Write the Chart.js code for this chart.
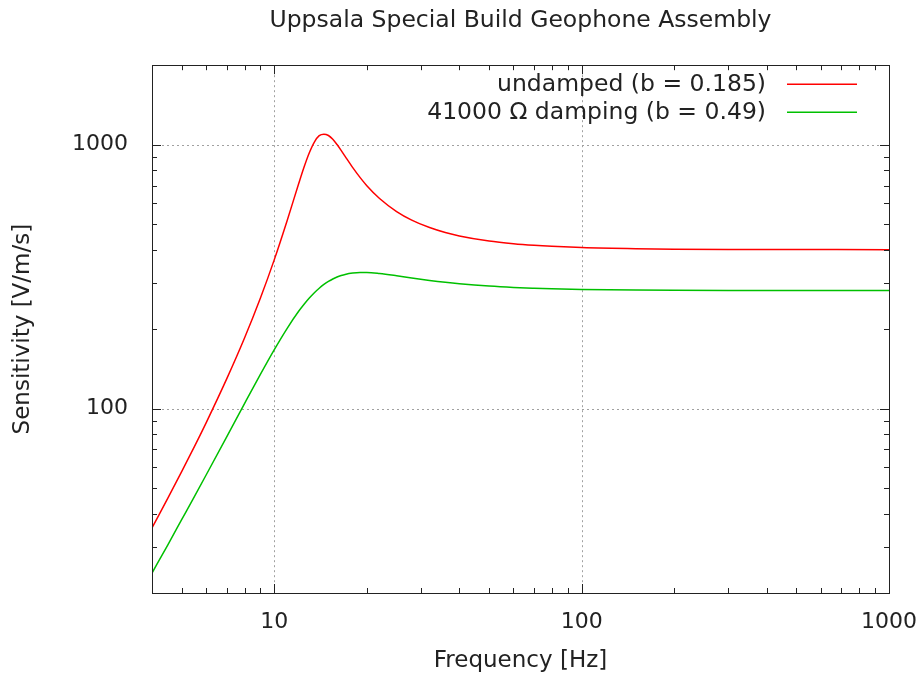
<!DOCTYPE html>
<html>
<head>
<meta charset="utf-8">
<title>Uppsala Special Build Geophone Assembly</title>
<script src="https://cdn.jsdelivr.net/npm/chart.js@4.4.1/dist/chart.umd.min.js"></script>
<style>
  html, body { margin: 0; padding: 0; background: #ffffff; }
  #contenedor { width: 920px; height: 675px; }
</style>
</head>
<body>
<div id="contenedor"><canvas id="graficoGeofono" width="920" height="675"></canvas></div>
<script>
// Frecuencias (Hz) donde se leyeron las curvas del grafico original
var frecuencias = [4, 4.5, 5, 5.5, 6, 7, 8, 9, 10, 11, 12, 12.5, 13, 13.5, 14, 14.5, 15, 15.5, 16, 16.5,
  17, 18, 19, 20, 22, 25, 28, 32, 36, 40, 50, 60, 70, 80, 100, 150, 200, 300, 500, 1000];

// Sensibilidad [V/m/s] sin amortiguar (b = 0.185)
var sensibilidadSinAmortiguar = [35.3, 45.7, 57.8, 71.9, 88.3, 129.5, 185.0, 261.1, 366.7, 513.9,
  710.7, 822.6, 931.7, 1022.9, 1081.1, 1095.0, 1083.0, 1048.2, 1000.8, 950.8,
  902.6, 818.4, 751.6, 699.3, 625.1, 557.9, 517.8, 485.1, 464.6, 451.0,
  431.3, 421.3, 415.4, 411.7, 407.4, 403.3, 401.8, 400.8, 400.3, 400.1];

// Sensibilidad [V/m/s] con resistencia de 41000 ohm (b = 0.49)
var sensibilidadAmortiguada = [23.8, 30.4, 38.0, 46.5, 56.0, 78.1, 104.4, 134.4, 167.2, 201.0,
  233.6, 248.5, 262.3, 274.7, 285.7, 295.2, 303.1, 309.7, 315.0, 319.1,
  322.3, 326.1, 327.6, 327.6, 324.8, 318.6, 312.5, 305.9, 300.9, 297.2,
  291.2, 287.8, 285.8, 284.4, 282.8, 281.3, 280.7, 280.3, 280.1, 280.0];

var etiquetasX = [10, 100, 1000];
var etiquetasY = [100, 1000];
var nombresSeries = ['undamped (b = 0.185)', '41000 \u03a9 damping (b = 0.49)'];

var fuente = '"DejaVu Sans", "Liberation Sans", sans-serif';

function esEtiqueta(lista, v) {
  return lista.some(function (e) { return Math.abs(e - v) < e * 1e-6; });
}

function aPuntos(valores) {
  return frecuencias.map(function (f, i) { return { x: f, y: valores[i] }; });
}

// marcas de las decadas: 1..9 x 10^n dentro del rango de la escala
function marcasLog(escala) {
  var marcas = [];
  for (var d = 1; d <= 10000; d *= 10) {
    for (var m = 1; m <= 9; m++) {
      var v = m * d;
      if (v >= escala.min && v <= escala.max) marcas.push({ valor: v, mayor: m === 1 });
    }
  }
  return marcas;
}

// rejilla punteada, marcas hacia dentro y borde al estilo gnuplot
var marcoGnuplot = {
  id: 'marcoGnuplot',
  beforeDatasetsDraw: function (chart) {
    var ctx = chart.ctx, area = chart.chartArea;
    var sx = chart.scales.x, sy = chart.scales.y;
    ctx.save();
    ctx.strokeStyle = '#a0a0a0';
    ctx.lineWidth = 1;
    ctx.setLineDash([2, 3]);
    etiquetasX.forEach(function (v) {
      var px = Math.round(sx.getPixelForValue(v)) + 0.5;
      if (px > area.left + 2 && px < area.right - 2) {
        ctx.beginPath(); ctx.moveTo(px, area.top); ctx.lineTo(px, area.bottom); ctx.stroke();
      }
    });
    etiquetasY.forEach(function (v) {
      var py = Math.round(sy.getPixelForValue(v)) + 0.5;
      if (py > area.top + 2 && py < area.bottom - 2) {
        ctx.beginPath(); ctx.moveTo(area.left, py); ctx.lineTo(area.right, py); ctx.stroke();
      }
    });
    ctx.restore();
  },
  afterDatasetsDraw: function (chart) {
    var ctx = chart.ctx, area = chart.chartArea;
    var sx = chart.scales.x, sy = chart.scales.y;
    ctx.save();
    ctx.strokeStyle = '#222222';
    ctx.lineWidth = 1;
    ctx.setLineDash([]);
    marcasLog(sx).forEach(function (t) {
      var px = Math.round(sx.getPixelForValue(t.valor)) + 0.5;
      var largo = t.mayor ? 9 : 5;
      ctx.beginPath();
      ctx.moveTo(px, area.bottom); ctx.lineTo(px, area.bottom - largo);
      ctx.moveTo(px, area.top); ctx.lineTo(px, area.top + largo);
      ctx.stroke();
    });
    marcasLog(sy).forEach(function (t) {
      var py = Math.round(sy.getPixelForValue(t.valor)) + 0.5;
      var largo = t.mayor ? 9 : 5;
      ctx.beginPath();
      ctx.moveTo(area.left, py); ctx.lineTo(area.left + largo, py);
      ctx.moveTo(area.right, py); ctx.lineTo(area.right - largo, py);
      ctx.stroke();
    });
    ctx.strokeRect(Math.round(area.left) + 0.5, Math.round(area.top) + 0.5,
      Math.round(area.right - area.left), Math.round(area.bottom - area.top));
    ctx.restore();
  },
  afterDraw: function (chart) {
    // leyenda dentro del area, texto a la izquierda de la muestra de linea
    var ctx = chart.ctx, area = chart.chartArea;
    ctx.save();
    ctx.font = '23.5px ' + fuente;
    ctx.textAlign = 'right';
    ctx.textBaseline = 'middle';
    chart.data.datasets.forEach(function (ds, i) {
      var y = area.top + 19 + i * 28;
      ctx.fillStyle = '#222222';
      ctx.fillText(ds.label, area.right - 123, y + 1);
      ctx.strokeStyle = ds.borderColor;
      ctx.lineWidth = 1.5;
      ctx.beginPath();
      ctx.moveTo(area.right - 102, y);
      ctx.lineTo(area.right - 32, y);
      ctx.stroke();
    });
    ctx.restore();
  }
};

var ctx = document.getElementById('graficoGeofono').getContext('2d');
var chart = new Chart(ctx, {
  type: 'line',
  data: {
    datasets: [{
      label: nombresSeries[0],
      data: aPuntos(sensibilidadSinAmortiguar),
      borderColor: '#ff0000',
      borderWidth: 1.5,
      pointRadius: 0,
      cubicInterpolationMode: 'monotone',
      fill: false
    }, {
      label: nombresSeries[1],
      data: aPuntos(sensibilidadAmortiguada),
      borderColor: '#00c000',
      borderWidth: 1.5,
      pointRadius: 0,
      cubicInterpolationMode: 'monotone',
      fill: false
    }]
  },
  options: {
    responsive: false,
    animation: false,
    layout: { padding: { left: 0, right: 31, top: 0, bottom: 0 } },
    plugins: {
      legend: { display: false },
      tooltip: { enabled: false },
      title: {
        display: true,
        fullSize: false,
        text: 'Uppsala Special Build Geophone Assembly',
        color: '#222222',
        font: { family: fuente, size: 23.5, weight: 'normal' },
        padding: { top: 7, bottom: 30 }
      }
    },
    scales: {
      x: {
        type: 'logarithmic',
        min: 4,
        max: 1000,
        grid: { display: false, drawTicks: false },
        border: { display: false },
        ticks: {
          autoSkip: false,
          maxRotation: 0,
          padding: 16,
          color: '#222222',
          font: { family: fuente, size: 22 },
          callback: function (v) { return esEtiqueta(etiquetasX, v) ? String(Math.round(v)) : null; }
        },
        title: {
          display: true,
          text: 'Frequency [Hz]',
          color: '#222222',
          font: { family: fuente, size: 23 },
          padding: { top: 0, bottom: 0 }
        },
        afterFit: function (escala) {
          escala.height = 82;
          escala.paddingLeft = 0;
          escala.paddingRight = 0;
        }
      },
      y: {
        type: 'logarithmic',
        min: 20,
        max: 2000,
        grid: { display: false, drawTicks: false },
        border: { display: false },
        ticks: {
          autoSkip: false,
          padding: 24,
          color: '#222222',
          font: { family: fuente, size: 22 },
          callback: function (v) { return esEtiqueta(etiquetasY, v) ? String(Math.round(v)) : null; }
        },
        title: {
          display: true,
          text: 'Sensitivity [V/m/s]',
          color: '#222222',
          font: { family: fuente, size: 23 },
          padding: { top: 9, bottom: 0 }
        },
        afterFit: function (escala) {
          escala.width = 152;
          escala.paddingTop = 0;
          escala.paddingBottom = 0;
        }
      }
    }
  },
  plugins: [marcoGnuplot]
});
</script>
</body>
</html>
